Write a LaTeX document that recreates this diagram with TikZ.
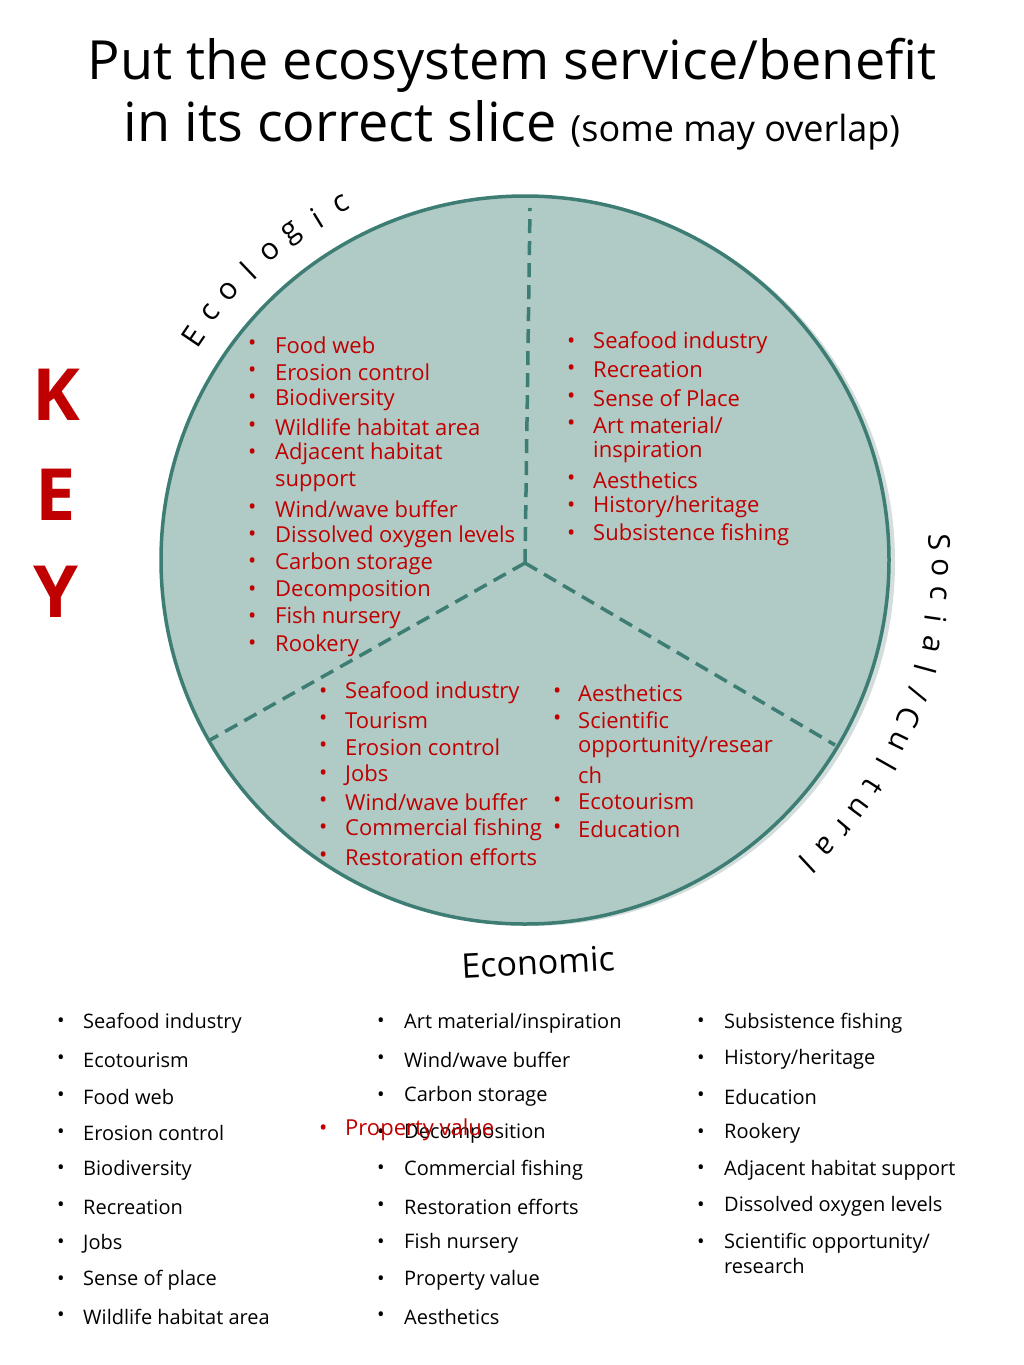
\documentclass[tikz,border=0pt]{standalone}
\usepackage{fontspec}
\setmainfont{Open Sans}
\definecolor{fillc}{HTML}{B0CAC5}
\definecolor{edge}{HTML}{3E7D74}
\definecolor{shad}{HTML}{D3DEDC}
\definecolor{red1}{HTML}{C00000}
\begin{document}
\begin{tikzpicture}[x=1pt,y=-1pt,
  rl/.style={anchor=west,text=red1,font=\fontsize{22}{26}\selectfont,inner sep=0pt},
  kl/.style={anchor=west,font=\fontsize{20}{24}\selectfont,inner sep=0pt},
  arcl/.style={font=\fontsize{30}{32}\selectfont,inner sep=0pt},
  slicedash/.style={draw=edge,line width=3.5pt,dash pattern=on 14pt off 8pt}]
\useasboundingbox (0,0) rectangle (1024,1365);
\node[font=\fontsize{54}{60}\selectfont] (t1) at (512,65) {Put the ecosystem service/benefit};
\node[font=\fontsize{54}{60}\selectfont] (t2) at (512,125) {in its correct slice {\fontsize{36}{40}\selectfont (some may overlap)}};
\fill[shad] (531,562) circle (364);
\draw[edge,fill=fillc,line width=3.5pt] (525,560) circle (364);
\coordinate (c) at (525,563);
\coordinate (top) at (530,208);
\coordinate (ll) at (210,740);
\coordinate (lr) at (835,745);
\draw[slicedash] (c) -- (top);
\draw[slicedash] (c) -- (ll);
\draw[slicedash] (c) -- (lr);
\foreach \ch [count=\i from 0] in {E,c,o,l,o,g,i,c}
  \node[arcl] (e\i) at ({525+400*cos(146-4.1*\i)},{560-400*sin(146-4.1*\i)}) [rotate={56-4.1*\i}] {\ch};
\foreach \ch [count=\i from 0] in {S,o,c,i,a,l,{/},C,u,l,t,u,r,a,l}
  \node[arcl] (s\i) at ({525+415*cos(2.5-3.55*\i)},{560-415*sin(2.5-3.55*\i)}) [rotate={-87.5-3.55*\i}] {\ch};
\node[font=\fontsize{34}{36}\selectfont,rotate=3] (eco) at (538,962) {Economic};
\foreach \l/\y in {K/395,E/495,Y/592}
  \node[text=red1,font=\fontsize{72}{72}\selectfont\bfseries] (k\l) at (56,\y) {\l};
% left slice
\foreach \t [count=\i from 0] in {Food web,Erosion control,Biodiversity,Wildlife habitat area,Adjacent habitat}
  {\node[rl] (a\i) at (275,{345+27.3*\i}) {\t}; \node[rl] (ab\i) at (248,{345+27.3*\i}) {•};}
\node[rl] (a5) at (275,481.5) {support};
\foreach \t [count=\i from 0] in {Wind/wave buffer,Dissolved oxygen levels,Carbon storage,Decomposition,Fish nursery,Rookery}
  {\node[rl] (aa\i) at (275,{509+27.3*\i}) {\t}; \node[rl] (aab\i) at (248,{509+27.3*\i}) {•};}
% right slice
\foreach \t/\y in {{Seafood industry}/343,{Recreation}/370,{Sense of Place}/398,{Art material/}/425,{Aesthetics}/480,{History/heritage}/507,{Subsistence fishing}/535}
  {\node[rl] at (593,\y) {\t}; \node[rl] at (567,\y) {•};}
\node[rl] (r1) at (593,452) {inspiration};
% bottom left
\foreach \t [count=\i from 0] in {Seafood industry,Tourism,Erosion control,Jobs,Wind/wave buffer,Commercial fishing,Restoration efforts}
  {\node[rl] (b\i) at (345,{693+27.3*\i}) {\t}; \node[rl] (bb\i) at (319,{693+27.3*\i}) {•};}
% bottom right
\foreach \t/\y in {{Aesthetics}/693,{Scientific}/720,{Ecotourism}/802,{Education}/829}
  {\node[rl] at (578,\y) {\t}; \node[rl] at (553,\y) {•};}
\node[rl] (br1) at (578,747) {opportunity/resear};
\node[rl] (br2) at (578,775) {ch};
% key columns
\foreach \t [count=\i from 0] in {Seafood industry,Ecotourism,Food web,Erosion control,Biodiversity,Recreation,Jobs,Sense of place,Wildlife habitat area}
  {\node[kl] (k1\i) at (83,{1023+36.75*\i}) {\t}; \node[kl] at (57,{1023+36.75*\i}) {•};}
\foreach \t [count=\i from 0] in {Art material/inspiration,Wind/wave buffer,Carbon storage,Decomposition,Commercial fishing,Restoration efforts,Fish nursery,Property value,Aesthetics}
  {\node[kl] (k2\i) at (404,{1023+36.75*\i}) {\t}; \node[kl] at (377,{1023+36.75*\i}) {•};}
\foreach \t [count=\i from 0] in {Subsistence fishing,History/heritage,Education,Rookery,Adjacent habitat support,Dissolved oxygen levels,Scientific opportunity/}
  {\node[kl] (k3\i) at (724,{1023+36.75*\i}) {\t}; \node[kl] at (697,{1023+36.75*\i}) {•};}
\node[kl] (k3r) at (724,1266) {research};
\node[rl] (pv) at (345,1130) {Property value};
\node[rl] (pvb) at (319,1130) {•};
\end{tikzpicture}
\end{document}
